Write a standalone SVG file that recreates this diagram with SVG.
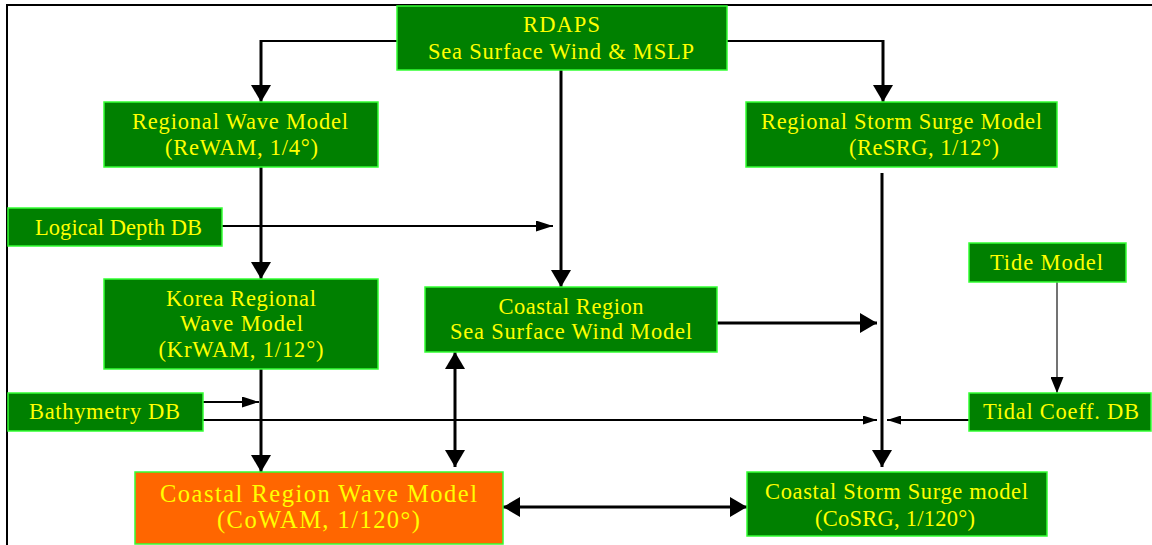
<svg xmlns="http://www.w3.org/2000/svg" width="1152" height="545" viewBox="0 0 1152 545">
  <style>
    .box { fill: #008000; stroke: #33ff33; stroke-width: 1.5; }
    .hot { fill: #ff6600; stroke: #33ff33; stroke-width: 1.5; }
    text { font-family: 'Liberation Serif', 'Times New Roman', serif; font-size: 22.5px; fill: #ffff00; text-anchor: middle; }
    text.big { font-size: 24.5px; }
    .ln { fill: none; stroke: #000; stroke-width: 3; }
    .ln2 { fill: none; stroke: #000; stroke-width: 2.2; }
    .thin { fill: none; stroke: #444; stroke-width: 1.5; }
  </style>
  <defs>
    <marker id="ahBig" markerUnits="userSpaceOnUse" markerWidth="18" markerHeight="20" refX="17" refY="10" orient="auto">
      <path d="M0,0 L17,10 L0,20 Z" fill="#000"/>
    </marker>
    <marker id="ahBigStart" markerUnits="userSpaceOnUse" markerWidth="18" markerHeight="20" refX="0" refY="10" orient="auto">
      <path d="M17,0 L0,10 L17,20 Z" fill="#000"/>
    </marker>
    <marker id="ahSmall" markerUnits="userSpaceOnUse" markerWidth="18" markerHeight="11" refX="17" refY="5.5" orient="auto">
      <path d="M0,0 L17,5.5 L0,11 Z" fill="#000"/>
    </marker>
    <marker id="ahTiny" markerUnits="userSpaceOnUse" markerWidth="15" markerHeight="9" refX="14" refY="4.5" orient="auto">
      <path d="M0,0 L14,4.5 L0,9 Z" fill="#000"/>
    </marker>
    <marker id="ahThin" markerUnits="userSpaceOnUse" markerWidth="17" markerHeight="13" refX="16" refY="6.5" orient="auto">
      <path d="M0,0 L16,6.5 L0,13 Z" fill="#000"/>
    </marker>
  </defs>

  <rect width="1152" height="545" fill="#fff"/>
  <!-- outer frame (top and left edges) -->
  <path d="M7,545 V5 H1152" fill="none" stroke="#000" stroke-width="2"/>

  <g id="connectors">
    <!-- RDAPS to the two regional models -->
    <path class="ln2" d="M398,41 H261"/>
    <path class="ln" d="M261,40 V102" marker-end="url(#ahBig)"/>
    <path class="ln2" d="M727,41 H883"/>
    <path class="ln" d="M883,40 V102" marker-end="url(#ahBig)"/>
    <!-- RDAPS to coastal wind model -->
    <path class="ln" d="M561,70 V287" marker-end="url(#ahBig)"/>
    <!-- ReWAM to KrWAM -->
    <path class="ln" d="M261,167 V279" marker-end="url(#ahBig)"/>
    <!-- Logical Depth DB -->
    <path class="ln2" d="M222,226 H553" marker-end="url(#ahSmall)"/>
    <!-- coastal wind model to surge branch -->
    <path class="ln" d="M717,323 H877" marker-end="url(#ahBig)"/>
    <!-- ReSRG down to CoSRG -->
    <path class="ln" d="M882,173 V467" marker-end="url(#ahBig)"/>
    <!-- Tide model to tidal coefficients -->
    <path class="thin" d="M1057,277 V393" marker-end="url(#ahThin)"/>
    <!-- KrWAM to CoWAM -->
    <path class="ln" d="M261,369 V472" marker-end="url(#ahBig)"/>
    <!-- Bathymetry DB -->
    <path class="ln2" d="M203,402 H259" marker-end="url(#ahSmall)"/>
    <path class="ln2" d="M203,420 H877" marker-end="url(#ahTiny)"/>
    <!-- Tidal Coeff. DB -->
    <path class="ln2" d="M969,420 H887" marker-end="url(#ahTiny)"/>
    <!-- coastal wind model and CoWAM exchange -->
    <path class="ln" d="M455,352 V467" marker-start="url(#ahBigStart)" marker-end="url(#ahBig)"/>
    <!-- CoWAM and CoSRG exchange -->
    <path class="ln" d="M503,507 H747" marker-start="url(#ahBigStart)" marker-end="url(#ahBig)"/>
  </g>

  <g id="rdaps">
    <rect class="box" x="397" y="6" width="330" height="64"/>
    <text x="561.5" y="32" textLength="77" lengthAdjust="spacing">RDAPS</text>
    <text x="561" y="59" textLength="266" lengthAdjust="spacing">Sea Surface Wind &amp; MSLP</text>
  </g>

  <g id="rewam">
    <rect class="box" x="104" y="102" width="274" height="65"/>
    <text x="240" y="129" textLength="216" lengthAdjust="spacing">Regional Wave Model</text>
    <text x="241.5" y="155" textLength="153" lengthAdjust="spacing">(ReWAM, 1/4°)</text>
  </g>

  <g id="resrg">
    <rect class="box" x="746" y="102" width="311" height="65"/>
    <text x="901.5" y="129" textLength="281" lengthAdjust="spacing">Regional Storm Surge Model</text>
    <text x="924" y="155" textLength="150" lengthAdjust="spacing">(ReSRG, 1/12°)</text>
  </g>

  <g id="logical-depth-db">
    <rect class="box" x="8" y="208" width="214" height="38"/>
    <text x="118.5" y="235" textLength="167" lengthAdjust="spacing">Logical Depth DB</text>
  </g>

  <g id="krwam">
    <rect class="box" x="104" y="279" width="274" height="90"/>
    <text x="241" y="306" textLength="150" lengthAdjust="spacing">Korea Regional</text>
    <text x="241.5" y="331" textLength="123" lengthAdjust="spacing">Wave Model</text>
    <text x="241" y="357" textLength="165" lengthAdjust="spacing">(KrWAM, 1/12°)</text>
  </g>

  <g id="coastal-wind">
    <rect class="box" x="425" y="287" width="292" height="65"/>
    <text x="571" y="314" textLength="145" lengthAdjust="spacing">Coastal Region</text>
    <text x="571" y="339" textLength="242" lengthAdjust="spacing">Sea Surface Wind Model</text>
  </g>

  <g id="tide-model">
    <rect class="box" x="969" y="243" width="157" height="39"/>
    <text x="1046.5" y="270" textLength="113" lengthAdjust="spacing">Tide Model</text>
  </g>

  <g id="bathymetry-db">
    <rect class="box" x="8" y="393" width="195" height="38"/>
    <text x="104.5" y="419" textLength="151" lengthAdjust="spacing">Bathymetry DB</text>
  </g>

  <g id="tidal-coeff-db">
    <rect class="box" x="969" y="393" width="182" height="38"/>
    <text x="1061" y="419" textLength="156" lengthAdjust="spacing">Tidal Coeff. DB</text>
  </g>

  <g id="cowam">
    <rect class="hot" x="135" y="472" width="368" height="72"/>
    <text class="big" x="318.5" y="502" textLength="317" lengthAdjust="spacing">Coastal Region Wave Model</text>
    <text class="big" x="318.5" y="528" textLength="203" lengthAdjust="spacing">(CoWAM, 1/120°)</text>
  </g>

  <g id="cosrg">
    <rect class="box" x="747" y="472" width="300" height="64"/>
    <text x="896.5" y="499" textLength="263" lengthAdjust="spacing">Coastal Storm Surge model</text>
    <text x="895" y="526" textLength="160" lengthAdjust="spacing">(CoSRG, 1/120°)</text>
  </g>
</svg>
